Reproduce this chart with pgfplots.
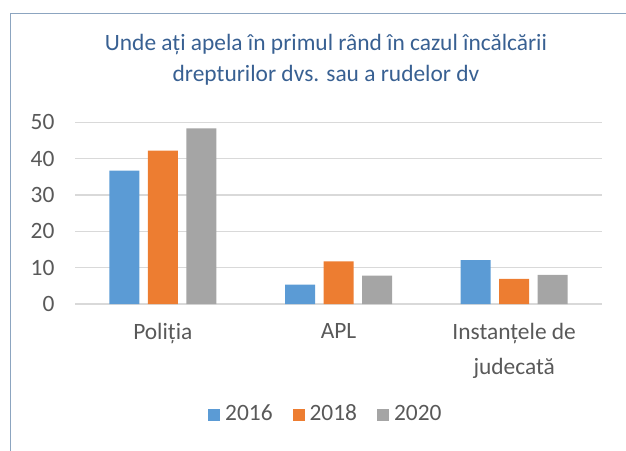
\documentclass[border=0pt]{standalone}
\usepackage{pgfplots}
\pgfplotsset{compat=1.18}
\usepackage{fontspec}
\setmainfont{Carlito}
\definecolor{c16}{RGB}{91,155,213}
\definecolor{c18}{RGB}{237,125,49}
\definecolor{c20}{RGB}{165,165,165}
\definecolor{titlec}{RGB}{56,96,146}
\definecolor{framec}{RGB}{140,165,192}
\definecolor{txt}{RGB}{89,89,89}
\definecolor{gridc}{RGB}{217,217,217}
\begin{document}
\begin{tikzpicture}[x=1bp,y=1bp]
\useasboundingbox (0,0) rectangle (626,-451);
\draw[framec, line width=1.5bp] (10.5,-451) -- (10.5,-13.5) -- (626,-13.5);
\node[titlec, font=\fontsize{23.5}{31}\selectfont, align=center] at (326,-60) {Unde ați apela în primul rând în cazul încălcării\\drepturilor dvs. sau a rudelor dv};
\begin{axis}[
  at={(75bp,-304bp)}, anchor=south west,
  scale only axis, width=527bp, height=181.7bp,
  xmin=-0.5, xmax=2.5, ymin=0, ymax=50,
  ybar=8.5bp, bar width=30bp,
  axis line style={draw=none},
  major tick length=0pt,
  ymajorgrids, grid style={gridc, line width=1.3bp},
  ytick={0,10,20,30,40,50},
  xtick={0,1,2},
  xticklabels={Poliția, APL, {Instanțele de\\judecată}},
  /pgf/number format/assume math mode=true,
  tick label style={font=\fontsize{23.5}{35}\selectfont, text=txt},
  yticklabel style={xshift=-17bp},
  xticklabel style={align=center, anchor=north, yshift=-16bp},
  legend columns=3,
  legend style={at={(0.476,-0.611)}, anchor=center, draw=none, fill=none,
    font=\fontsize{23.5}{24}\selectfont, text=txt,
    nodes={text depth=0pt, text height=11bp},
    /tikz/every even column/.append style={column sep=18bp},
    /tikz/every odd column/.append style={column sep=3bp}},
  legend image code/.code={\fill[#1,draw=none] (0bp,-6bp) rectangle (12bp,6bp);},
]
\addplot[fill=c16, draw=none] coordinates {(0,36.7) (1,5.3) (2,12.1)};
\addplot[fill=c18, draw=none] coordinates {(0,42.2) (1,11.7) (2,6.9)};
\addplot[fill=c20, draw=none] coordinates {(0,48.3) (1,7.8) (2,8.0)};
\legend{2016, 2018, 2020}
\end{axis}
\end{tikzpicture}
\end{document}
